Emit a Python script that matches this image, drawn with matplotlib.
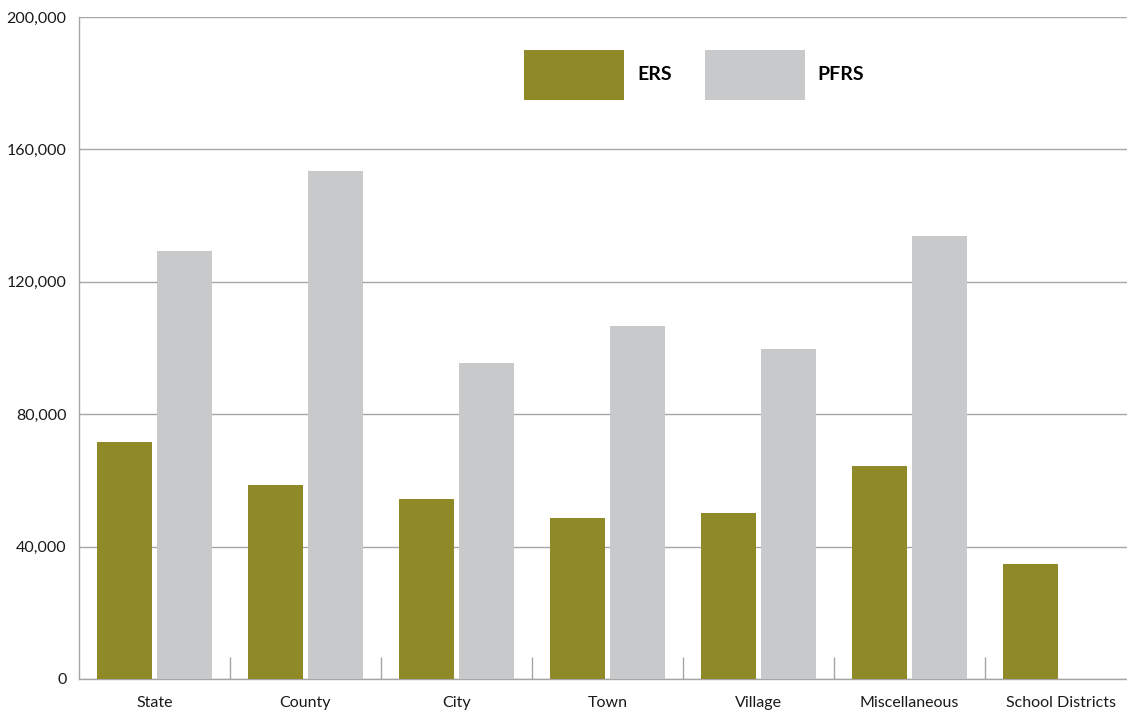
import matplotlib
matplotlib.use("Agg")
import matplotlib.pyplot as plt
from matplotlib.patches import Patch
import numpy as np

categories = ["State", "County", "City", "Town", "Village", "Miscellaneous", "School Districts"]
ers = [71600, 58600, 54400, 48600, 50100, 64300, 34700]
pfrs = [129300, 153500, 95500, 106600, 99700, 133800, 0]
yticks = [0, 40000, 80000, 120000, 160000, 200000]

ERS_COLOR = "#8F8A27"
PFRS_COLOR = "#C8C9CB"
GRID_COLOR = "#A6A6A6"

plt.rcParams["font.family"] = ["Lato", "DejaVu Sans"]

W, H = 1127, 710
fig = plt.figure(figsize=(W / 100, H / 100), dpi=100)
left, right, top, bottom = 79, 1136, 17, 679
ax = fig.add_axes([left / W, 1 - bottom / H, (right - left) / W, (bottom - top) / H])

x = np.arange(len(categories))
bw = 55 / 151
off = 30 / 151
ax.bar(x - off, ers, width=bw, color=ERS_COLOR, zorder=3)
pf_x = [xi + off for xi, v in zip(x, pfrs) if v > 0]
pf_v = [v for v in pfrs if v > 0]
ax.bar(pf_x, pf_v, width=bw, color=PFRS_COLOR, zorder=3)

ax.set_xlim(-0.5, len(categories) - 0.5)
ax.set_ylim(0, 200000)
ax.set_yticks(yticks)
ax.set_yticklabels([f"{v:,}" for v in yticks], fontsize=11.5, color="#1a1a1a")
ax.tick_params(axis="y", length=0, pad=9)
ax.yaxis.grid(True, color=GRID_COLOR, linewidth=1.0, zorder=0)
ax.set_axisbelow(True)

ax.set_xticks(x)
ax.set_xticklabels(categories, fontsize=11.5, color="#1a1a1a")
ax.tick_params(axis="x", length=0, pad=12)
ax.set_xticks(np.arange(0.5, len(categories) - 1, 1.0), minor=True)
ax.tick_params(axis="x", which="minor", direction="in", length=16, color=GRID_COLOR, width=1.0)

for s in ["top", "right"]:
    ax.spines[s].set_visible(False)
ax.spines["left"].set_color(GRID_COLOR)
ax.spines["bottom"].set_color(GRID_COLOR)
ax.spines["left"].set_linewidth(1.0)
ax.spines["bottom"].set_linewidth(1.0)

handles = [Patch(facecolor=ERS_COLOR, edgecolor="none", label="ERS"),
           Patch(facecolor=PFRS_COLOR, edgecolor="none", label="PFRS")]
fs = 14
fs_px = fs * 100 / 72
hh = (50 / fs_px - 0.245) / 0.65
fig.legend(handles=handles, loc="upper left", bbox_to_anchor=(524 / W, 1 - 50 / H),
           ncol=2, frameon=False, borderpad=0, borderaxespad=0,
           handlelength=100 / fs_px, handleheight=hh,
           handletextpad=13 / fs_px, columnspacing=33 / fs_px,
           prop={"weight": "bold", "size": fs})

fig.savefig("out.png", dpi=100)
